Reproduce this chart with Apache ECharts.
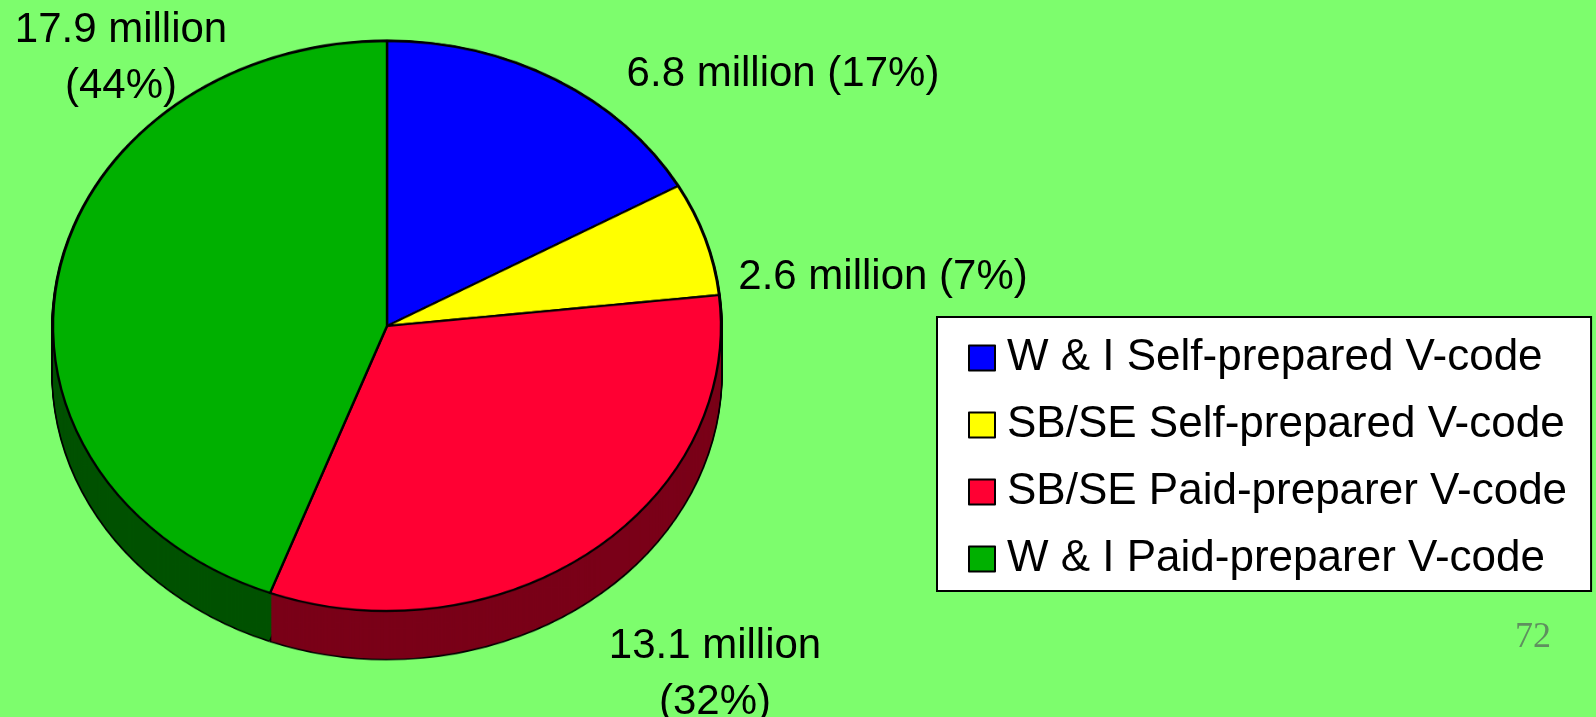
<!DOCTYPE html>
<html><head><meta charset="utf-8">
<script src="https://cdn.jsdelivr.net/npm/echarts@6/dist/echarts.min.js"></script>
<style>
html,body{margin:0;padding:0;width:1596px;height:717px;overflow:hidden;background:#7DFD6D;}
#pie{position:absolute;left:0;top:0;width:1596px;height:841px;transform:scaleY(0.8533);transform-origin:0 0;}
#over{position:absolute;left:0;top:0;width:1596px;height:717px;}
</style></head><body>
<div id="pie"></div><div id="over"></div>
<script>
// ---- data ----
const categories = ['W & I Self-prepared V-code', 'SB/SE Self-prepared V-code', 'SB/SE Paid-preparer V-code', 'W & I Paid-preparer V-code'];
const valuesMillion = [6.8, 2.6, 13.1, 17.9];
const percentLabels = ['17%', '7%', '32%', '44%'];
const pageNumber = '72';

// ---- styles / layout ----
const topColors = ['#0000FF', '#FFFF00', '#FF0033', '#00B000'];
const sideColors = ['#00007F', '#7F7F00', '#7A0018', '#005200'];
const labelSep = [' ', ' ', '\n', '\n'];
const labelPos = [[783, 74], [883, 277], [715, 674], [121, 58]];
const FONT = '"Liberation Sans", Arial, sans-serif';
const CX = 387, CY = 382, R = 334, DEPTH = 56;

const pieData = categories.map((n, i) => ({ name: n, value: valuesMillion[i] }));

// ---- chart A: pie body (vertically squashed into an ellipse) ----
const seriesA = [];
const offsets = [];
for (let off = DEPTH; off >= 0; off -= 2) offsets.push(off);
offsets.forEach(off => {
  seriesA.push({
    type: 'pie', silent: true, animation: false, z: 1,
    center: [CX, CY + off], radius: R + 1.8, startAngle: 90,
    label: { show: false }, labelLine: { show: false },
    itemStyle: { color: '#000', borderWidth: 0 },
    data: pieData
  });
});
offsets.forEach(off => {
  seriesA.push({
    type: 'pie', silent: true, animation: false, z: 2,
    center: [CX, CY + off], radius: R, startAngle: 90, padAngle: 0.35,
    label: { show: false }, labelLine: { show: false },
    data: pieData.map((d, i) => ({ name: d.name, value: d.value, itemStyle: { color: sideColors[i], borderWidth: 0 } }))
  });
});
seriesA.push({
  type: 'pie', silent: true, animation: false, z: 3,
  center: [CX, CY], radius: R, startAngle: 90,
  label: { show: false }, labelLine: { show: false },
  data: pieData.map((d, i) => ({ name: d.name, value: d.value, itemStyle: { color: topColors[i], borderColor: '#000', borderWidth: 2.4 } }))
});
const chartA = echarts.init(document.getElementById('pie'));
chartA.setOption({ animation: false, backgroundColor: 'transparent', series: seriesA });

// ---- chart B: labels, legend, page number ----
const chartB = echarts.init(document.getElementById('over'));
chartB.setOption({
  animation: false,
  backgroundColor: 'transparent',
  legend: {
    orient: 'vertical', left: 937, top: 317,
    padding: [19, 24, 10, 31],
    backgroundColor: '#FFFFFF', borderColor: '#000', borderWidth: 2,
    itemWidth: 26, itemHeight: 25, itemGap: 23,
    icon: 'rect', selectedMode: false,
    textStyle: { fontSize: 44, fontFamily: FONT, color: '#000', lineHeight: 44, padding: [0, 0, 0, 7] },
    data: categories.map((n, i) => ({ name: n, itemStyle: { color: topColors[i], borderColor: '#000', borderWidth: 2, opacity: 1 } }))
  },
  graphic: [{
    type: 'text', x: 1533, y: 638,
    style: { text: pageNumber, fontSize: 36, fontFamily: '"Liberation Serif", "Times New Roman", serif', fill: '#5F8F5F', align: 'center', verticalAlign: 'middle' }
  }],
  series: [{
    type: 'pie', silent: true, center: [CX, 326], radius: R, startAngle: 90,
    emphasis: { disabled: true },
    data: pieData.map((d, i) => ({ name: d.name, value: d.value, itemStyle: { color: 'rgba(0,0,0,0)', borderWidth: 0 } })),
    label: {
      show: true, position: 'inside', overflow: 'none',
      formatter: p => valuesMillion[p.dataIndex] + ' million' + labelSep[p.dataIndex] + '(' + percentLabels[p.dataIndex] + ')',
      fontSize: 42, lineHeight: 56, color: '#000', fontFamily: FONT, align: 'center'
    },
    labelLine: { show: false },
    labelLayout: p => ({ x: labelPos[p.dataIndex][0], y: labelPos[p.dataIndex][1], align: 'center', verticalAlign: 'middle' })
  }]
});
</script>
</body></html>
